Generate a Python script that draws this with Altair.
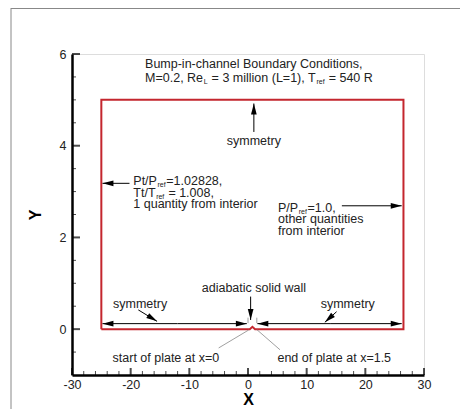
import math
import altair as alt
import pandas as pd

# ---------------- data ----------------
# Boundary outline (channel with small bump at the plate)
outline_x = [-25, 0, 0.3, 0.75, 1.2, 1.5, 26.5, 26.5, -25, -25]
outline_y = [0, 0, 0, 0.05, 0, 0, 0, 5, 5, 0]

# axis ticks
x_major = [-30, -20, -10, 0, 10, 20, 30]
x_minor = [v for v in range(-28, 30, 2) if v % 10 != 0]
y_major = [0, 2, 4, 6]
y_minor = [-0.5, 0.5, 1, 1.5, 2.5, 3, 3.5, 4.5, 5, 5.5]

# arrows: tail -> tip
arrow_x1 = [1.0, -20.2, 16.0, 0.45, -12.0, -12.0, 14.0, 14.0, -18.7, 15.1]
arrow_y1 = [4.30, 3.18, 2.69, 0.71, 0.12, 0.12, 0.12, 0.12, 0.42, 0.38]
arrow_x2 = [1.0, -24.8, 26.2, 0.45, -24.8, -0.2, 1.6, 26.2, -15.5, 13.1]
arrow_y2 = [4.92, 3.18, 2.69, 0.20, 0.12, 0.12, 0.12, 0.12, 0.17, 0.15]

# thin gray leader lines
lead_x1 = [-5.0, 5.45, 0.0, 1.5]
lead_y1 = [-0.41, -0.45, 0.13, 0.13]
lead_x2 = [0.1, 1.5, 0.0, 1.5]
lead_y2 = [-0.02, -0.01, 0.25, 0.25]

# centered plain labels
label_text = ["symmetry", "adiabatic solid wall", "symmetry", "symmetry",
              "start of plate at x=0", "end of plate at x=1.5"]
label_x = [1.0, 1.0, -18.4, 17.0, -14.0, 14.7]
label_y = [4.02, 0.81, 0.47, 0.47, -0.71, -0.71]

# left-aligned multi-segment lines: (x, baseline y, [(text, is_subscript)])
rich_lines = [
    (-17.55, 5.685, [("Bump-in-channel Boundary Conditions,", False)]),
    (-17.55, 5.40, [("M=0.2, Re", False), ("L", True), (" = 3 million (L=1), T", False),
                    ("ref", True), (" = 540 R", False)]),
    (-19.55, 3.145, [("Pt/P", False), ("ref", True), ("=1.02828,", False)]),
    (-19.55, 2.89, [("Tt/T", False), ("ref", True), (" = 1.008,", False)]),
    (-19.55, 2.64, [("1 quantity from interior", False)]),
    (5.11, 2.563, [("P/P", False), ("ref", True), ("=1.0,", False)]),
    (5.11, 2.31, [("other quantities", False)]),
    (5.11, 2.055, [("from interior", False)]),
]

# ---------------- layout ----------------
W, H = 352, 321
PL, PT, PR, PB = 64, 46, 36, 34
XD, YD = [-30, 30], [-1, 6]
SX = W / (XD[1] - XD[0])
SY = H / (YD[1] - YD[0])
FONT = "Liberation Sans"
RED = "#c4262e"
FS = 12.5
SUB = 7

AW = {' ': 278, '(': 333, ')': 333, ',': 278, '.': 278, '/': 278, '=': 584, '-': 333,
      'L': 556, 'M': 833, 'P': 667, 'R': 722, 'T': 611, 'B': 667, 'C': 722,
      'a': 556, 'e': 556, 'f': 278, 'i': 222, 'l': 222, 'm': 833, 'n': 556, 'o': 556,
      'q': 556, 'r': 333, 't': 278, 'u': 556, 'y': 500, 'p': 556, 'c': 500, 'h': 556,
      'd': 556, 's': 500}
for d in "0123456789":
    AW[d] = 556


def tw(s, size):
    return sum(AW.get(c, 556) for c in s) * size / 1000.0


rows = []
for x0, yb, segs in rich_lines:
    px = 0.0
    for txt, sub in segs:
        size = SUB if sub else FS
        stripped = txt.lstrip(" ")
        lead = len(txt) - len(stripped)
        px += tw(" " * lead, size)
        if sub:
            px += 0.6
        rows.append({"x": x0 + px / SX, "y": yb - (2.5 / SY if sub else 0.0),
                     "t": stripped, "fs": size})
        px += tw(stripped, size)
        if sub:
            px += 0.6
rich_df = pd.DataFrame(rows)

xs = alt.Scale(domain=XD, nice=False, zero=False)
ys = alt.Scale(domain=YD, nice=False, zero=False)

x_axis = alt.Axis(
    values=x_major, labelExpr="datum.value + ''", ticks=False, grid=False, domainWidth=2.5,
    domainColor="black", labelFont=FONT, labelFontSize=12.5, labelColor="#222",
    labelFlush=False, labelPadding=3, labelOverlap=False, title="X", titleFont=FONT,
    titleFontSize=16, titleFontWeight="bold", titleColor="black", titleY=16,
    titleBaseline="top")
y_axis = alt.Axis(
    values=y_major, labelExpr="datum.value + ''", ticks=False, grid=False, domainWidth=2.5,
    domainColor="black", labelFont=FONT, labelFontSize=12.5, labelColor="#222",
    labelFlush=False, labelPadding=6, labelOverlap=False, title="Y", titleFont=FONT,
    titleFontSize=16, titleFontWeight="bold", titleColor="black", titleX=-37,
    titleY=H / 2, titleBaseline="middle")


def XE():
    return alt.X("x:Q", scale=xs, axis=x_axis)


def YE():
    return alt.Y("y:Q", scale=ys, axis=y_axis)


outline = alt.Chart(pd.DataFrame({"x": outline_x, "y": outline_y,
                                  "o": list(range(len(outline_x)))})).mark_line(
    color=RED, strokeWidth=2, strokeJoin="miter", clip=False
).encode(x=XE(), y=YE(), order="o:Q")

xmaj = alt.Chart(pd.DataFrame({"x": x_major, "y": [-1] * len(x_major)})).mark_tick(
    orient="vertical", size=7, thickness=2, yOffset=-3.5, color="black", clip=False
).encode(x=XE(), y=YE())
xmin = alt.Chart(pd.DataFrame({"x": x_minor, "y": [-1] * len(x_minor)})).mark_tick(
    orient="vertical", size=4, thickness=1, yOffset=-2, color="black", clip=False
).encode(x=XE(), y=YE())
ymaj = alt.Chart(pd.DataFrame({"x": [-30] * len(y_major), "y": y_major})).mark_tick(
    orient="horizontal", size=8, thickness=2, xOffset=4, color="black", clip=False
).encode(x=XE(), y=YE())
ymin = alt.Chart(pd.DataFrame({"x": [-30] * len(y_minor), "y": y_minor})).mark_tick(
    orient="horizontal", size=4, thickness=1, xOffset=2, color="black", clip=False
).encode(x=XE(), y=YE())

adf = pd.DataFrame({"x": arrow_x1, "y": arrow_y1, "x2": arrow_x2, "y2": arrow_y2})
arrow_lines = alt.Chart(adf).mark_rule(color="black", strokeWidth=1).encode(
    x=XE(), y=YE(), x2="x2:Q", y2="y2:Q")

ang = [(math.degrees(math.atan2((b - a) * SX, (d - c) * SY)) + 360) % 360
       for a, b, c, d in zip(arrow_x1, arrow_x2, arrow_y1, arrow_y2)]
hdf = pd.DataFrame({"x": arrow_x2, "y": arrow_y2, "a": ang})
heads = alt.Chart(hdf).mark_point(
    shape="M0,0 L0.26,1 L-0.26,1 Z", filled=True, size=480, color="black",
    opacity=1, strokeWidth=0
).encode(x=XE(), y=YE(), angle=alt.Angle("a:Q", scale=None))

ldf = pd.DataFrame({"x": lead_x1, "y": lead_y1, "x2": lead_x2, "y2": lead_y2})
leaders = alt.Chart(ldf).mark_rule(color="#888", strokeWidth=0.8).encode(
    x=XE(), y=YE(), x2="x2:Q", y2="y2:Q")

labels = alt.Chart(pd.DataFrame({"x": label_x, "y": label_y, "t": label_text})).mark_text(
    font=FONT, fontSize=FS, color="#222", align="center", baseline="alphabetic"
).encode(x=XE(), y=YE(), text="t:N")

rich = alt.Chart(rich_df).mark_text(
    font=FONT, color="#222", align="left", baseline="alphabetic"
).encode(x=XE(), y=YE(), text="t:N", size=alt.Size("fs:Q", scale=None, legend=None))

one = pd.DataFrame({"k": [0]})
frame_left = alt.Chart(one).mark_rule(color="#888", strokeWidth=1).encode(
    x=alt.value(-61), y=alt.value(-PT), y2=alt.value(H + PB))
frame_top = alt.Chart(one).mark_rule(color="#888", strokeWidth=1).encode(
    x=alt.value(-61), x2=alt.value(W + PR), y=alt.value(-PT + 0.5))

chart = alt.layer(
    outline, frame_left, frame_top, leaders, arrow_lines, heads,
    xmin, xmaj, ymin, ymaj, labels, rich
).properties(
    width=W, height=H,
    autosize=alt.AutoSizeParams(type="none"),
    padding={"left": PL, "top": PT, "right": PR, "bottom": PB},
).configure_view(stroke=None).configure(background="white")

chart.save("out.html", embed_options={"renderer": "svg", "actions": False})
